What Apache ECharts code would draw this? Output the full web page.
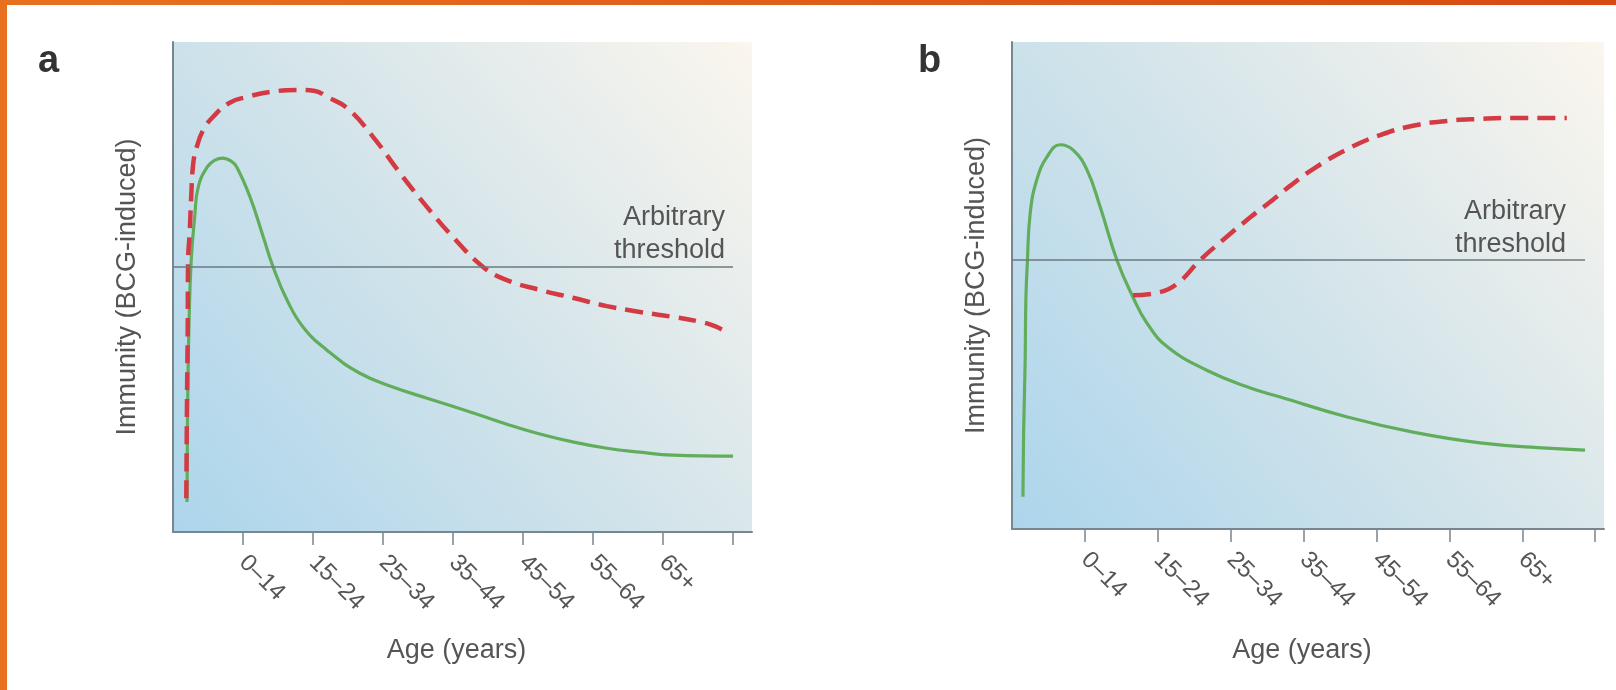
<!DOCTYPE html>
<html>
<head>
<meta charset="utf-8">
<script src="https://cdn.jsdelivr.net/npm/echarts@6/dist/echarts.min.js"></script>
<style>
html,body{margin:0;padding:0;background:#fff;}
#chart{width:1616px;height:690px;}
</style>
</head>
<body>
<div id="chart"></div>
<script>
// ---- data ----
const ageGroups = ['0–14', '15–24', '25–34', '35–44', '45–54', '55–64', '65+'];
const ageTicks = [1, 2, 3, 4, 5, 6, 7, 8];
const labelTicks = [1, 2, 3, 4, 5, 6, 7];
const panelLetters = ['a', 'b'];
const thresholdText = 'Arbitrary\nthreshold';
const xTitle = 'Age (years)';
const yTitle = 'Immunity (BCG-induced)';

// panel a: threshold level and extent
const thresholdA = 54.1;
const thresholdEndA = 8;
// panel b
const thresholdB = 55.2;
const thresholdEndB = 7.86;

// panel a: dashed red curve [age position, immunity]
const redA = [
  [0.19, 6.9], [0.2, 26.9], [0.21, 41.2], [0.215, 54.9], [0.24, 61.6], [0.26, 68.4],
  [0.29, 75.3], [0.34, 78.6], [0.43, 82.0], [0.57, 84.7], [0.81, 87.6], [1.06, 88.8],
  [1.39, 89.8], [1.77, 90.2], [2.03, 90.0], [2.2, 88.8], [2.49, 86.5], [2.86, 80.6],
  [3.24, 73.3], [3.63, 66.3], [4.0, 60.2], [4.43, 54.1], [4.77, 51.4], [5.24, 49.4],
  [5.71, 47.8], [6.2, 46.1], [6.67, 44.9], [7.14, 43.9], [7.53, 42.9], [7.74, 42.0],
  [7.91, 40.8]
];
// panel a: solid green curve
const greenA = [
  [0.2, 6.1], [0.21, 26.9], [0.23, 43.3], [0.26, 55.5], [0.31, 64.3], [0.36, 70.4],
  [0.49, 74.5], [0.6, 75.9], [0.71, 76.3], [0.83, 75.7], [0.91, 74.5], [1.1, 68.4],
  [1.29, 60.2], [1.43, 54.1], [1.63, 47.3], [1.86, 41.8], [2.2, 37.1], [2.67, 32.4],
  [3.14, 29.6], [3.63, 27.3], [4.29, 24.3], [4.77, 22.0], [5.24, 20.0], [5.71, 18.4],
  [6.2, 17.1], [6.67, 16.3], [7.14, 15.7], [8.0, 15.5]
];
// panel b: solid green curve
const greenB = [
  [0.15, 6.6], [0.16, 20.3], [0.18, 34.1], [0.19, 47.0], [0.21, 54.6], [0.25, 64.9],
  [0.34, 71.7], [0.48, 76.4], [0.66, 78.9], [0.84, 77.8], [1.03, 73.7], [1.21, 66.1],
  [1.44, 55.2], [1.66, 47.6], [1.85, 42.3], [2.13, 37.4], [2.67, 32.6], [3.26, 29.0],
  [3.68, 27.1], [4.6, 23.0], [5.5, 19.9], [6.42, 17.7], [7.34, 16.6], [7.86, 16.2]
];
// panel b: dashed red curve
const redB = [
  [1.66, 48.0], [1.99, 48.5], [2.26, 50.3], [2.58, 55.2], [2.89, 59.3], [3.26, 63.9],
  [3.58, 67.6], [3.81, 70.4], [4.13, 73.9], [4.6, 78.0], [5.05, 80.9], [5.5, 82.8],
  [5.97, 83.8], [6.42, 84.2], [6.87, 84.4], [7.61, 84.4]
];

// ---- styles ----
const FONT = '"Liberation Sans", Arial, sans-serif';
const TXT = '#555555';
const AXIS = '#78878e';
const RED = '#d43a44';
const GREEN = '#61ad5b';
const bg = {
  type: 'linear', x: 0, y: 1, x2: 1, y2: 0,
  colorStops: [
    { offset: 0, color: '#acd5ec' },
    { offset: 0.5, color: '#d3e4ea' },
    { offset: 1, color: '#fbf6ee' }
  ]
};

function xAxisFor(gridIndex, max, nameGap) {
  return {
    type: 'value', gridIndex: gridIndex, min: 0, max: max,
    name: xTitle, nameLocation: 'middle', nameGap: nameGap,
    nameTextStyle: { color: TXT, fontSize: 27, fontFamily: FONT, padding: [0, 12, 0, 0] },
    axisLine: { show: true, lineStyle: { color: AXIS, width: 2 } },
    axisTick: { show: true, length: 13, customValues: ageTicks, lineStyle: { color: AXIS, width: 1.5 } },
    axisLabel: {
      show: true, customValues: labelTicks, rotate: -45, margin: 27,
      color: TXT, fontSize: 24, fontFamily: FONT,
      formatter: function (v) { return ageGroups[Math.round(v) - 1] || ''; }
    },
    splitLine: { show: false }
  };
}
function yAxisFor(gridIndex, nameGap) {
  return {
    type: 'value', gridIndex: gridIndex, min: 0, max: 100,
    name: yTitle, nameLocation: 'middle', nameGap: nameGap, nameRotate: 90,
    nameTextStyle: { color: TXT, fontSize: 27, fontFamily: FONT },
    axisLine: { show: true, lineStyle: { color: AXIS, width: 2 } },
    axisTick: { show: false }, axisLabel: { show: false }, splitLine: { show: false }
  };
}
function thresholdLine(level, end, dist) {
  return {
    symbol: 'none', silent: true, animation: false,
    lineStyle: { color: '#6a7a80', width: 1.5, type: 'solid' },
    label: {
      show: true, position: 'insideEndTop', formatter: thresholdText, distance: dist,
      color: TXT, fontSize: 27, fontFamily: FONT, lineHeight: 33, align: 'right'
    },
    emphasis: { disabled: true },
    data: [[{ coord: [0, level] }, { coord: [end, level] }]]
  };
}

const chart = echarts.init(document.getElementById('chart'), null, { renderer: 'canvas' });
chart.setOption({
  animation: false,
  backgroundColor: '#ffffff',
  title: [
    { text: panelLetters[0], left: 38, top: 43, padding: 0,
      textStyle: { fontSize: 38, fontWeight: 'bold', color: '#333', fontFamily: FONT } },
    { text: panelLetters[1], left: 918, top: 43, padding: 0,
      textStyle: { fontSize: 38, fontWeight: 'bold', color: '#333', fontFamily: FONT } }
  ],
  graphic: [
    { type: 'rect', left: 0, top: 0, shape: { width: 1616, height: 5 }, silent: true,
      style: { fill: { type: 'linear', x: 0, y: 0, x2: 1, y2: 0, colorStops: [{ offset: 0, color: '#e8711f' }, { offset: 1, color: '#d64a12' }] } } },
    { type: 'rect', left: 0, top: 0, shape: { width: 7, height: 690 }, silent: true,
      style: { fill: '#e8711f' } }
  ],
  grid: [
    { left: 173, top: 42, width: 579, height: 490, show: true, backgroundColor: bg, borderWidth: 0 },
    { left: 1012, top: 42, width: 592, height: 487, show: true, backgroundColor: bg, borderWidth: 0 }
  ],
  xAxis: [xAxisFor(0, 579 / 70, 105), xAxisFor(1, 592 / 72.9, 108)],
  yAxis: [yAxisFor(0, 32), yAxisFor(1, 22)],
  series: [
    { type: 'line', xAxisIndex: 0, yAxisIndex: 0, data: greenA, showSymbol: false, symbol: 'none',
      smooth: 0.45, lineStyle: { color: GREEN, width: 3.2 },
      markLine: thresholdLine(thresholdA, thresholdEndA, [8, 0]), z: 3 },
    { type: 'line', xAxisIndex: 0, yAxisIndex: 0, data: redA, showSymbol: false, symbol: 'none',
      smooth: 0.45, lineStyle: { color: RED, width: 4.5, type: [18, 9] }, z: 4 },
    { type: 'line', xAxisIndex: 1, yAxisIndex: 1, data: greenB, showSymbol: false, symbol: 'none',
      smooth: 0.45, lineStyle: { color: GREEN, width: 3.2 },
      markLine: thresholdLine(thresholdB, thresholdEndB, [19, -1]), z: 3 },
    { type: 'line', xAxisIndex: 1, yAxisIndex: 1, data: redB, showSymbol: false, symbol: 'none',
      smooth: 0.45, lineStyle: { color: RED, width: 4.5, type: [18, 9] }, z: 4 }
  ]
});
</script>
</body>
</html>
